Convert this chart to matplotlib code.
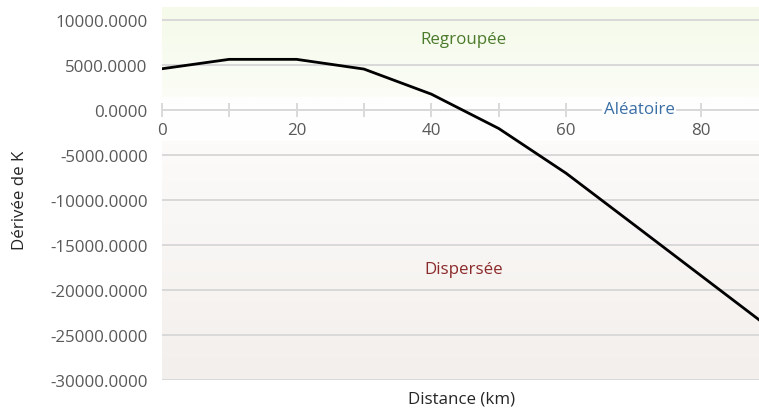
import numpy as np
import matplotlib
matplotlib.use("Agg")
import matplotlib.pyplot as plt
from matplotlib.colors import LinearSegmentedColormap

plt.rcParams['font.family'] = ['Open Sans', 'DejaVu Sans']

# K-function derivative vs distance
distance_km = [0, 10, 20, 30, 40, 50, 60, 70, 80, 90]
derivative_k = [4600, 5650, 5650, 4570, 1780, -2040, -7020, -12700, -18400, -24100]

y_ticks = [10000, 5000, 0, -5000, -10000, -15000, -20000, -25000, -30000]
x_major = [0, 20, 40, 60, 80]
x_minor = [10, 30, 50, 70]

# zone limits on the derivative scale
clustered_floor = 1500
dispersed_ceiling = -3450
y_top, y_bottom = 11470, -30000
x_left, x_right = 0, 88.6

FS = 12.2

fig = plt.figure(figsize=(7.59, 4.14), dpi=100)
ax = fig.add_axes([161.7 / 759, 33 / 414, 1 - 161.7 / 759, (406 - 33) / 414])
ax.set_xlim(x_left, x_right)
ax.set_ylim(y_bottom, y_top)

# background zones
green = LinearSegmentedColormap.from_list('g', ['#fbfdf6', '#f5faea'])
ax.imshow(np.linspace(0, 1, 64).reshape(-1, 1), cmap=green, origin='lower',
          extent=[x_left, x_right, clustered_floor, y_top], aspect='auto', zorder=0)
ax.axhspan(dispersed_ceiling, clustered_floor, color='#fefefe', lw=0, zorder=0)
pink = LinearSegmentedColormap.from_list('p', ['#f3efec', '#fcfbfa'])
ax.imshow(np.linspace(0, 1, 64).reshape(-1, 1), cmap=pink, origin='lower',
          extent=[x_left, x_right, y_bottom, dispersed_ceiling], aspect='auto', zorder=0)

# horizontal gridlines
for v in y_ticks:
    ax.axhline(v, color='#d9d9d9', lw=1.4, zorder=1)

# x axis at zero with crossing ticks
ax.plot([x_left, x_right], [0, 0], color='#d9d9d9', lw=1.4, zorder=1)
for t in x_major + x_minor:
    ax.plot([t, t], [-650, 650], color='#d9d9d9', lw=1.4, zorder=1, clip_on=False)
for t in x_major:
    ax.text(t, -1350, str(t), ha='center', va='top', fontsize=FS, color='#595959')

ax.plot(distance_km, derivative_k, color='black', lw=2.0, zorder=3, solid_joinstyle='miter')

ax.set_yticks(y_ticks)
ax.set_yticklabels([f"{v:.4f}" for v in y_ticks])
ax.tick_params(axis='y', length=0, pad=10, labelsize=FS, labelcolor='#595959')
ax.set_xticks([])
for s in ax.spines.values():
    s.set_visible(False)

ax.text(44.8, 7900, 'Regroupée', ha='center', va='center', fontsize=FS, color='#4a7a2a')
ax.text(70.8, 100, 'Aléatoire', ha='center', va='center', fontsize=FS, color='#3a6ea5', zorder=4,
        bbox=dict(facecolor='#fefefe', edgecolor='none', pad=1.0))
ax.text(44.8, -17700, 'Dispersée', ha='center', va='center', fontsize=FS, color='#8b2a2a')

fig.text(462 / 759, 1 - 400 / 414, 'Distance (km)', ha='center', va='center', fontsize=FS, color='#262626')
fig.text(20 / 759, 1 - 200 / 414, 'Dérivée de K', ha='center', va='center', fontsize=FS,
         color='#262626', rotation=90)

fig.savefig('out.png', dpi=100)
